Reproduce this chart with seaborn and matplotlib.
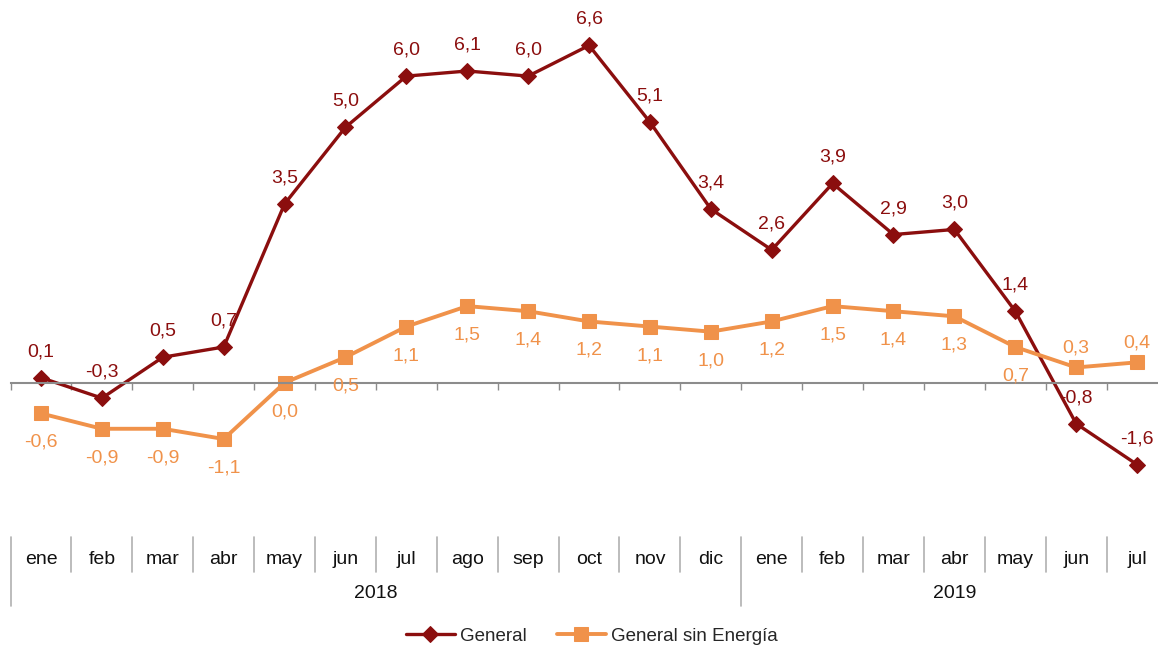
import matplotlib
matplotlib.use("Agg")
import matplotlib.pyplot as plt
import matplotlib.transforms as mtransforms
import seaborn as sns
import numpy as np

months = ["ene", "feb", "mar", "abr", "may", "jun", "jul", "ago", "sep", "oct", "nov", "dic",
          "ene", "feb", "mar", "abr", "may", "jun", "jul"]
years = ["2018", "2019"]
year_counts = [12, 7]
general = [0.1, -0.3, 0.5, 0.7, 3.5, 5.0, 6.0, 6.1, 6.0, 6.6, 5.1, 3.4,
           2.6, 3.9, 2.9, 3.0, 1.4, -0.8, -1.6]
sin_energia = [-0.6, -0.9, -0.9, -1.1, 0.0, 0.5, 1.1, 1.5, 1.4, 1.2, 1.1, 1.0,
               1.2, 1.5, 1.4, 1.3, 0.7, 0.3, 0.4]
series_names = ["General", "General sin Energía"]
# label placement for orange series (True = above)
sin_above = [False] * 17 + [True, True]

C_GEN = "#8B0E0E"
C_SIN = "#F0924A"
FS = 14

sns.set_theme(style="white")
plt.rcParams["font.family"] = ["Liberation Sans", "DejaVu Sans"]

fig = plt.figure(figsize=(11.58, 6.45), dpi=100)
ax = fig.add_axes([10.6 / 1158, 160 / 645, (1167.5 - 10.6) / 1158, (620 - 160) / 645])

x = np.arange(len(months))
sns.lineplot(x=x, y=general, ax=ax, color=C_GEN, marker="D", markersize=8,
             linewidth=2.4, markeredgecolor=C_GEN, label=series_names[0], legend=False)
sns.lineplot(x=x, y=sin_energia, ax=ax, color=C_SIN, marker="s", markersize=10,
             linewidth=2.8, markeredgecolor=C_SIN, label=series_names[1], legend=False)

ax.set_xlim(-0.5, len(months) - 0.5)
ax.set_ylim(-2, 7)

def fmt(v):
    return f"{v:.1f}".replace(".", ",")

for i, v in enumerate(general):
    ax.annotate(fmt(v), (i, v), xytext=(0, 26), textcoords="offset pixels",
                ha="center", va="center", fontsize=FS, color=C_GEN)
for i, v in enumerate(sin_energia):
    off = 19 if sin_above[i] else -29
    ax.annotate(fmt(v), (i, v), xytext=(0, off), textcoords="offset pixels",
                ha="center", va="center", fontsize=FS, color=C_SIN)

for s in ["top", "right", "left"]:
    ax.spines[s].set_visible(False)
ax.spines["bottom"].set_position(("data", 0))
ax.spines["bottom"].set_color("#8c8c8c")
ax.spines["bottom"].set_linewidth(1.5)
ax.set_xticks(np.arange(-0.5, len(months), 1.0))
ax.set_xticklabels([])
ax.tick_params(axis="x", direction="out", length=5, width=1, color="#8c8c8c", bottom=True)
ax.set_yticks([])
ax.set_xlabel("")
ax.set_ylabel("")
ax.grid(False)

# category axis below
trans = mtransforms.blended_transform_factory(ax.transData, fig.transFigure)
y_top = (645 - 537) / 645
y_mid = (645 - 572) / 645
y_bot = (645 - 606) / 645
y_month = (645 - 559) / 645
y_year = (645 - 593) / 645
for i, m in enumerate(months):
    ax.text(i, y_month, m, transform=trans, ha="center", va="center", fontsize=FS, color="#111111")
year_edges = np.cumsum([0] + year_counts) - 0.5
for b in np.arange(-0.5, len(months) + 0.5, 1.0):
    long = np.any(np.isclose(b, year_edges))
    ax.plot([b, b], [y_top, y_bot if long else y_mid], transform=trans, color="#b0b0b0",
            linewidth=1.2, clip_on=False)
for k, yname in enumerate(years):
    xc = (year_edges[k] + year_edges[k + 1]) / 2
    ax.text(xc, y_year, yname, transform=trans, ha="center", va="center", fontsize=FS, color="#111111")

handles, labels = ax.get_legend_handles_labels()
fig.legend(handles, labels, loc="center", bbox_to_anchor=(592 / 1158, 9 / 645), ncol=2,
           frameon=False, fontsize=13.5, handlelength=2.6, columnspacing=1.6, handletextpad=0.3)

fig.savefig("out.png", dpi=100)
